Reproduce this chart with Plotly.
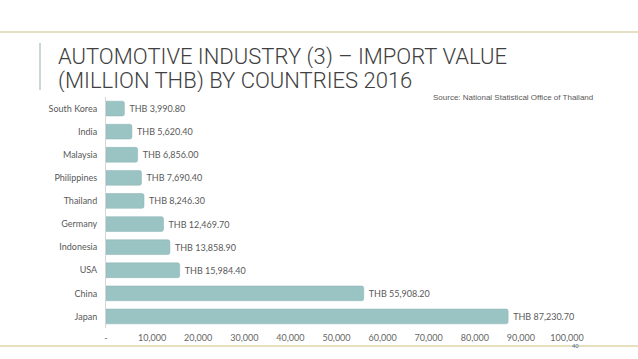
import plotly.graph_objects as go

countries = ["South Korea", "India", "Malaysia", "Philippines", "Thailand",
             "Germany", "Indonesia", "USA", "China", "Japan"]
values = [3990.80, 5620.40, 6856.00, 7690.40, 8246.30,
          12469.70, 13858.90, 15984.40, 55908.20, 87230.70]
tick_vals = [0, 10000, 20000, 30000, 40000, 50000, 60000, 70000, 80000, 90000, 100000]
tick_text = ["-", "10,000", "20,000", "30,000", "40,000", "50,000",
             "60,000", "70,000", "80,000", "90,000", "100,000"]
title_line1 = "AUTOMOTIVE INDUSTRY (3) – IMPORT VALUE"
title_line2 = "(MILLION THB) BY COUNTRIES 2016"
source_text = "Source: National Statistical Office of Thailand"
page_no = "40"

W, H = 638, 359
L, R, T, B = 106, 567, 97, 328


def px(x):
    return (x - L) / (R - L)


def py(y):
    return (B - y) / (B - T)


labels = ["\u00a0THB " + f"{v:,.2f}" for v in values]

fig = go.Figure(go.Bar(
    x=values, y=countries, orientation="h",
    marker=dict(color="#9ac3c4", line=dict(color="#8db2b4", width=0.5)),
    text=labels, textposition="outside", cliponaxis=False,
    textfont=dict(family="Lato", size=9, color="#595959"),
    hoverinfo="skip",
))

TITLE_FONT = dict(family="Roboto", size=22, color="#404040", weight=300)

fig.update_layout(
    width=W, height=H,
    margin=dict(l=L, r=W - R, t=T, b=H - B, autoexpand=False),
    paper_bgcolor="white", plot_bgcolor="white",
    showlegend=False, bargap=0.36, barcornerradius=2,
    xaxis=dict(range=[0, 100000], tickvals=tick_vals, ticktext=tick_text,
               showgrid=False, zeroline=False, showline=False, ticks="",
               ticklabelstandoff=3,
               tickfont=dict(family="Lato", size=9, color="#666666")),
    yaxis=dict(autorange="reversed", showgrid=False, zeroline=False,
               showline=True, linecolor="#d6d6d6", linewidth=1, ticks="",
               ticklabelstandoff=6,
               tickfont=dict(family="Lato", size=9, color="#595959")),
    shapes=[
        dict(type="line", xref="paper", yref="paper", x0=px(0), x1=px(W),
             y0=py(32), y1=py(32), line=dict(color="#ddd6ad", width=1.5)),
        dict(type="line", xref="paper", yref="paper", x0=px(0), x1=px(W),
             y0=py(346), y1=py(346), line=dict(color="#e6e0bf", width=2)),
        dict(type="line", xref="paper", yref="paper", x0=px(40), x1=px(40),
             y0=py(43), y1=py(90), line=dict(color="#c9d7d7", width=2)),
    ],
    annotations=[
        dict(text=title_line1, xref="paper", yref="paper", x=px(56), y=py(57.5),
             xanchor="left", yanchor="middle", showarrow=False, font=TITLE_FONT,
             height=22),
        dict(text=title_line2, xref="paper", yref="paper", x=px(56), y=py(80.5),
             xanchor="left", yanchor="middle", showarrow=False, font=TITLE_FONT,
             height=22),
        dict(text=source_text, xref="paper", yref="paper", x=px(431), y=py(97),
             xanchor="left", yanchor="middle", showarrow=False,
             font=dict(family="Liberation Sans", size=8, color="#595959")),
        dict(text=page_no, xref="paper", yref="paper", x=px(575), y=py(346),
             xanchor="center", yanchor="middle", showarrow=False,
             font=dict(family="Liberation Sans", size=6, color="#4a6c9c")),
    ],
)

fig.write_html("out.html", config={"displayModeBar": False},
               post_script="document.body.style.margin='0';")
